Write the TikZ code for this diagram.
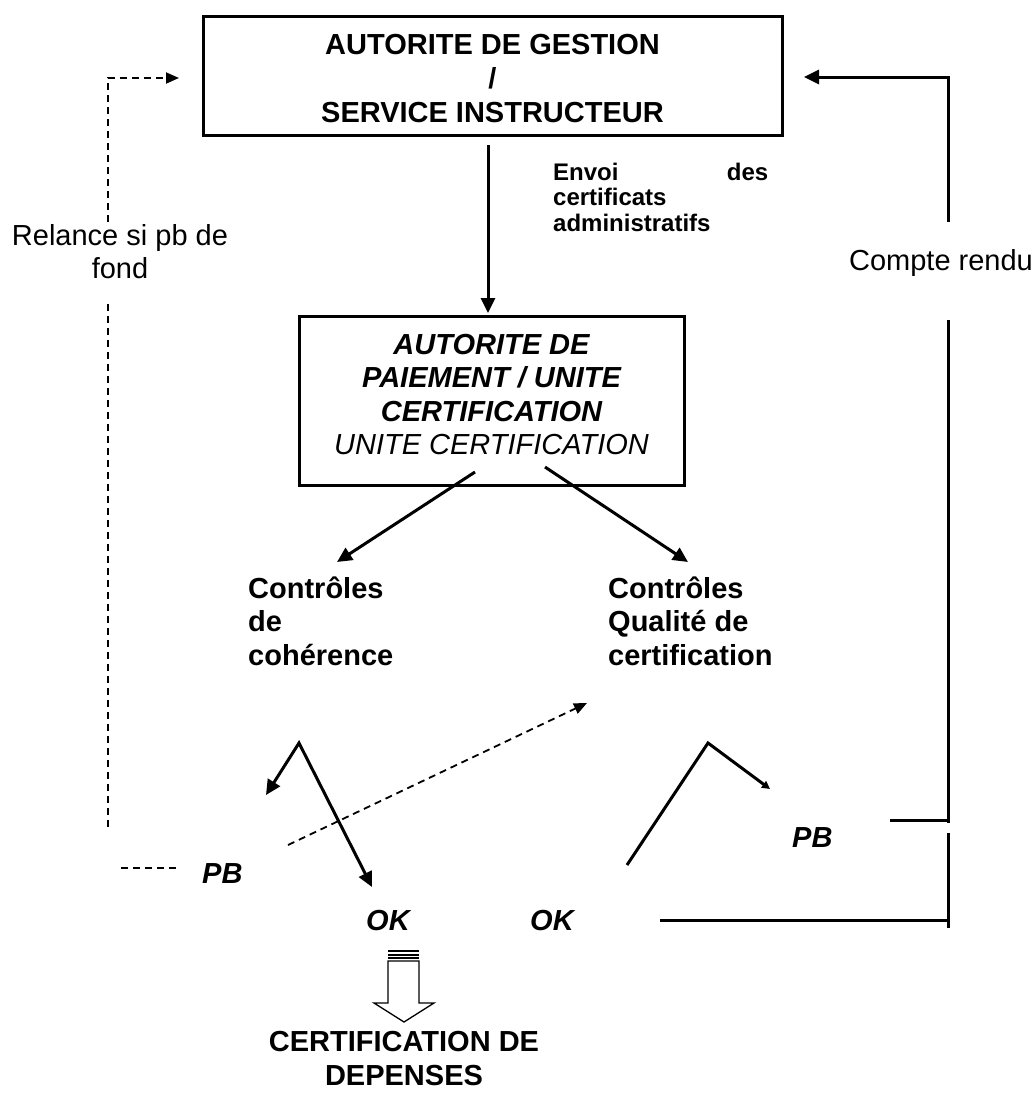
\documentclass[tikz,border=0pt]{standalone}
\usepackage{fontspec}
\setmainfont{Liberation Sans}
\usetikzlibrary{arrows.meta}
\begin{document}
\begin{tikzpicture}[x=1pt,y=-1pt,
  conn/.style={line width=3pt},
  dconn/.style={line width=1.8pt, dash pattern=on 7pt off 5pt},
  tip/.style={-{Triangle[length=15pt,width=14pt]}},
  dtip/.style={-{Triangle[length=13pt,width=11pt]}},
  boxstyle/.style={draw, line width=3pt, inner sep=0pt},
  lbl/.style={inner sep=0pt, font=\fontsize{29}{33}\selectfont},
  blbl/.style={inner sep=0pt, font=\fontsize{29}{33.5}\selectfont\bfseries},
  bilbl/.style={inner sep=0pt, font=\fontsize{29}{33.5}\selectfont\bfseries\itshape}
]
\useasboundingbox (0,0) rectangle (1036,1093);

% boxes
\node[boxstyle, minimum width=579pt, minimum height=119pt] (ag) at (492.5,75.5) {};
\node[inner sep=0pt, align=center, font=\fontsize{29}{34}\selectfont\bfseries] (agt) at (492.5,79)
  {AUTORITE DE GESTION\\/\\SERVICE INSTRUCTEUR};
\node[boxstyle, minimum width=385pt, minimum height=169pt] (ap) at (491.5,400.5) {};
\node[inner sep=0pt, align=center, font=\fontsize{29}{33.5}\selectfont] (apt) at (491.5,394.5)
  {{\bfseries\itshape AUTORITE DE}\\{\bfseries\itshape PAIEMENT / UNITE}\\{\bfseries\itshape CERTIFICATION}\\{\itshape UNITE CERTIFICATION}};

% labels
\node[inner sep=0pt, anchor=base west, text width=215pt, align=left,
      font=\fontsize{24}{25.5}\selectfont\bfseries] (envoi) at (553,180)
  {Envoi\hfill des\\certificats\\administratifs};
\node[lbl, anchor=base, align=center] (relance) at (120,278) {Relance si pb de\\fond};
\node[lbl, anchor=base] (cr) at (941,270) {Compte rendu};
\node[blbl, anchor=base west, align=left] (cc) at (248,665) {Contr\^oles\\de\\coh\'erence};
\node[blbl, anchor=base west, align=left] (cq) at (608,665) {Contr\^oles\\Qualit\'e de\\certification};
\node[bilbl, anchor=base west] (pbr) at (792,847) {PB};
\node[bilbl, anchor=base west] (pbl) at (202,883) {PB};
\node[bilbl, anchor=base west] (ok1) at (366,930) {OK};
\node[bilbl, anchor=base west] (ok2) at (530,930) {OK};
\node[blbl, anchor=base, align=center] (cert) at (404,1085) {CERTIFICATION DE\\DEPENSES};

% coordinates
\coordinate (agS) at (488,145);
\coordinate (apN) at (488,313);
\coordinate (d1) at (121,868);
\coordinate (d2) at (180,868);
\coordinate (d3) at (108,827);
\coordinate (d4) at (108,303);
\coordinate (d5) at (108,222);
\coordinate (d6) at (108,78);
\coordinate (d7) at (179,78);
\coordinate (r1) at (948,222);
\coordinate (r2) at (948,77);
\coordinate (r3) at (804,77);
\coordinate (r4) at (948,320);
\coordinate (r5) at (948,823);
\coordinate (r6) at (890,820);
\coordinate (r6b) at (948,820);
\coordinate (r7) at (948,833);
\coordinate (r8) at (948,928);
\coordinate (r9) at (660,920);
\coordinate (r10) at (948,920);
\coordinate (m1) at (475,472);
\coordinate (m2) at (337,562);
\coordinate (m3) at (545,467);
\coordinate (m4) at (688,562);
\coordinate (lv1) at (266,795);
\coordinate (lv2) at (299,743);
\coordinate (lv3) at (372,887);
\coordinate (rv1) at (627,865);
\coordinate (rv2) at (708,743);
\coordinate (rv3) at (770,789);
\coordinate (x1) at (288,845);
\coordinate (x2) at (587,703);

% connectors
\draw[conn, tip] (agS) -- (apN);
\draw[dconn] (d1) -- (d2);
\draw[dconn] (d3) -- (d4);
\draw[dconn, dtip] (d5) -- (d6) -- (d7);
\draw[conn, tip] (r1) -- (r2) -- (r3);
\draw[conn] (r4) -- (r5);
\draw[conn] (r6) -- (r6b);
\draw[conn] (r7) -- (r8);
\draw[conn] (r9) -- (r10);
\draw[conn, tip] (m1) -- (m2);
\draw[conn, tip] (m3) -- (m4);
\draw[conn, {Triangle[length=15pt,width=14pt]}-{Triangle[length=15pt,width=14pt]}] (lv1) -- (lv2) -- (lv3);
\draw[conn, -{Triangle[length=8pt,width=8pt]}] (rv1) -- (rv2) -- (rv3);
\draw[dconn, dtip] (x1) -- (x2);

% striped block arrow
\fill (388,950) rectangle (419,951.8);
\fill (388,953.5) rectangle (419,955.5);
\fill (388,957) rectangle (419,958.8);
\draw[line width=1.3pt] (388,961) -- (419,961) -- (419,1003) -- (434,1003) -- (404,1022)
  -- (374,1003) -- (388,1003) -- cycle;
\end{tikzpicture}
\end{document}
